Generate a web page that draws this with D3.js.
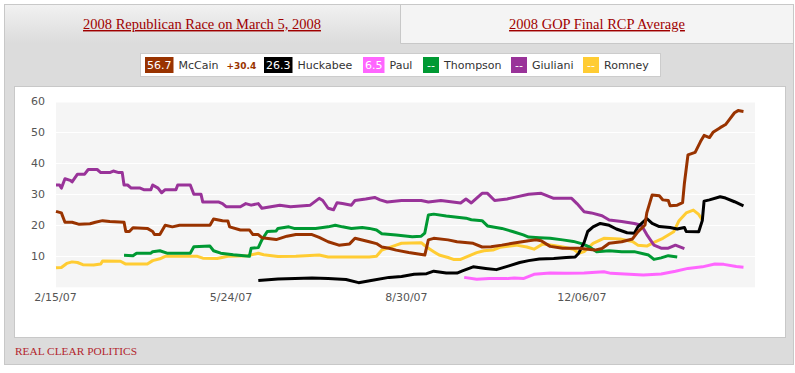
<!DOCTYPE html>
<html><head><meta charset="utf-8">
<script src="https://cdn.jsdelivr.net/npm/d3@7"></script>
<style>
html,body{margin:0;padding:0;background:#fff;}
svg{display:block;}
</style></head>
<body>
<svg id="c" width="795" height="373"></svg>
<script>
// ---- data ----
const mccain = [["2007-02-15",24.5],["2007-02-18",24],["2007-02-20",21],["2007-02-24",21],["2007-02-28",20.3],["2007-03-06",20.5],["2007-03-09",21],["2007-03-13",21.5],["2007-03-17",21.2],["2007-03-25",21],["2007-03-26",18],["2007-03-28",18],["2007-03-30",19.2],["2007-04-07",19],["2007-04-10",18],["2007-04-11",17],["2007-04-14",17],["2007-04-17",20],["2007-04-21",19.5],["2007-04-25",20],["2007-05-12",20],["2007-05-14",22],["2007-05-19",21.5],["2007-05-22",21.4],["2007-05-23",19.5],["2007-05-29",18.5],["2007-06-03",18.5],["2007-06-05",17],["2007-06-08",17],["2007-06-10",16],["2007-06-18",15.4],["2007-06-24",16.5],["2007-06-29",17],["2007-07-08",17],["2007-07-12",16.1],["2007-07-17",14.7],["2007-07-23",13.6],["2007-07-29",14],["2007-08-01",15.8],["2007-08-09",14.7],["2007-08-13",14.1],["2007-08-16",13],["2007-08-20",12.6],["2007-08-24",12],["2007-08-31",11.2],["2007-09-09",10.4],["2007-09-11",15.3],["2007-09-14",15.8],["2007-09-22",15.3],["2007-09-27",14.7],["2007-10-06",14.2],["2007-10-11",13],["2007-10-16",13.1],["2007-10-22",13.6],["2007-10-28",14.2],["2007-11-06",15],["2007-11-10",15.3],["2007-11-13",15],["2007-11-18",13.2],["2007-11-25",12.6],["2007-12-04",12.6],["2007-12-13",12],["2007-12-17",12.5],["2007-12-21",14.2],["2007-12-28",14.7],["2008-01-03",15.6],["2008-01-06",17.9],["2008-01-10",20.1],["2008-01-11",24],["2008-01-14",29.8],["2008-01-18",29.5],["2008-01-20",28.2],["2008-01-23",28],["2008-01-24",26.3],["2008-01-28",26.5],["2008-01-31",27.3],["2008-02-01",33.5],["2008-02-03",42.7],["2008-02-07",43.5],["2008-02-10",47],["2008-02-12",49],["2008-02-15",48.3],["2008-02-17",50],["2008-02-21",51.5],["2008-02-24",52.5],["2008-02-26",54],["2008-02-29",56.3],["2008-03-02",57],["2008-03-05",56.7]];

const huckabee = [["2007-06-08",2.2],["2007-06-19",2.7],["2007-07-08",3],["2007-07-17",2.8],["2007-07-27",2.5],["2007-08-03",1.5],["2007-08-10",2.2],["2007-08-20",3.2],["2007-08-27",3.5],["2007-09-03",4.2],["2007-09-10",4.4],["2007-09-14",5.2],["2007-09-21",4.6],["2007-09-27",4.6],["2007-09-30",5.3],["2007-10-06",6.6],["2007-10-13",6.1],["2007-10-19",5.7],["2007-10-26",6.9],["2007-11-01",8],["2007-11-06",8.6],["2007-11-12",9.1],["2007-11-20",9.3],["2007-11-27",9.6],["2007-12-02",9.8],["2007-12-04",11],["2007-12-07",14.5],["2007-12-09",18],["2007-12-12",19.5],["2007-12-16",20.6],["2007-12-21",20],["2007-12-25",18.8],["2007-12-31",17.6],["2008-01-04",17.4],["2008-01-06",19.5],["2008-01-11",22.2],["2008-01-14",20.6],["2008-01-18",19.6],["2008-01-24",19.3],["2008-01-28",18.8],["2008-02-01",19.3],["2008-02-02",18],["2008-02-09",17.9],["2008-02-11",21.5],["2008-02-12",27.8],["2008-02-15",28.2],["2008-02-21",29.2],["2008-02-24",28.8],["2008-02-29",27.6],["2008-03-05",26.3]];

const paul = [["2007-10-01",3.2],["2007-10-08",2.6],["2007-10-15",2.8],["2007-10-25",2.8],["2007-10-29",3],["2007-11-03",2.8],["2007-11-09",4.2],["2007-11-18",4.6],["2007-11-27",4.5],["2007-12-07",4.6],["2007-12-18",5],["2007-12-22",4.5],["2008-01-09",4],["2008-01-19",4.3],["2008-01-27",5.2],["2008-02-03",6.1],["2008-02-11",6.6],["2008-02-18",7.5],["2008-02-23",7.4],["2008-03-01",6.7],["2008-03-05",6.5]];

const thompson = [["2007-03-25",10.3],["2007-03-30",10.2],["2007-04-01",11],["2007-04-09",11],["2007-04-10",11.5],["2007-04-14",11.8],["2007-04-18",11],["2007-05-01",11],["2007-05-03",13.1],["2007-05-12",13.3],["2007-05-14",11.8],["2007-05-18",11],["2007-05-25",10.5],["2007-06-03",10],["2007-06-04",12.6],["2007-06-08",12.8],["2007-06-10",15.3],["2007-06-13",18],["2007-06-18",18.2],["2007-06-19",19],["2007-06-25",19.5],["2007-06-28",19],["2007-07-10",19],["2007-07-17",19.5],["2007-07-21",20],["2007-07-25",19.5],["2007-07-30",19],["2007-08-05",19.3],["2007-08-09",19],["2007-08-13",18.5],["2007-08-16",17.3],["2007-08-24",16.9],["2007-09-02",16.3],["2007-09-07",16.5],["2007-09-09",17.5],["2007-09-11",23.3],["2007-09-14",23.6],["2007-09-21",23],["2007-10-02",22.3],["2007-10-05",21.8],["2007-10-11",21.5],["2007-10-14",19.8],["2007-10-22",19],["2007-10-28",18],["2007-11-03",16.9],["2007-11-06",16.2],["2007-11-12",16],["2007-11-18",15.8],["2007-11-25",15.3],["2007-12-01",14.8],["2007-12-06",14],["2007-12-10",13],["2007-12-14",11.5],["2007-12-21",11.8],["2007-12-28",11.5],["2008-01-04",11.5],["2008-01-12",10.4],["2008-01-15",9],["2008-01-19",9.5],["2008-01-23",10.2],["2008-01-28",9.8]];

const giuliani = [["2007-02-15",33],["2007-02-17",33],["2007-02-18",32],["2007-02-20",35],["2007-02-23",34.5],["2007-02-24",34],["2007-02-27",36.5],["2007-03-03",36.5],["2007-03-05",38],["2007-03-10",38],["2007-03-12",37],["2007-03-17",37],["2007-03-19",37.5],["2007-03-22",37],["2007-03-24",37],["2007-03-25",33],["2007-03-27",33],["2007-03-29",32],["2007-04-03",32],["2007-04-05",31.5],["2007-04-09",31.5],["2007-04-10",33],["2007-04-13",32],["2007-04-15",30.5],["2007-04-17",31.5],["2007-04-23",31.5],["2007-04-24",33],["2007-05-01",33],["2007-05-03",30],["2007-05-07",30],["2007-05-08",27.5],["2007-05-17",27.5],["2007-05-19",27],["2007-05-21",26],["2007-05-29",26],["2007-06-01",27],["2007-06-04",26.5],["2007-06-08",27],["2007-06-10",25.5],["2007-06-15",26],["2007-06-20",26.5],["2007-06-26",26],["2007-07-07",26.5],["2007-07-12",28.7],["2007-07-14",28],["2007-07-17",25.5],["2007-07-20",25],["2007-07-22",27.3],["2007-07-25",27],["2007-07-30",26.5],["2007-08-01",28],["2007-08-07",28.5],["2007-08-12",29],["2007-08-15",28.2],["2007-08-19",27.5],["2007-08-27",28],["2007-09-07",28],["2007-09-11",27.5],["2007-09-18",28],["2007-09-29",27.2],["2007-10-02",28.5],["2007-10-05",27.2],["2007-10-11",30.3],["2007-10-14",30.3],["2007-10-18",28],["2007-10-25",28.5],["2007-10-29",29],["2007-11-06",30],["2007-11-13",30.3],["2007-11-20",28.7],["2007-11-30",28.7],["2007-12-03",27],["2007-12-07",24.4],["2007-12-11",24],["2007-12-17",23.1],["2007-12-21",21.7],["2007-12-28",21.2],["2008-01-04",20.6],["2008-01-08",20],["2008-01-11",17],["2008-01-15",13.6],["2008-01-19",12.6],["2008-01-23",12.6],["2008-01-27",13.6],["2008-02-01",12.5]];

const romney = [["2007-02-15",6.3],["2007-02-18",6.4],["2007-02-21",7.7],["2007-02-24",8.2],["2007-02-27",8],["2007-03-02",7.3],["2007-03-08",7.2],["2007-03-12",7.5],["2007-03-13",8.5],["2007-03-23",8.4],["2007-03-26",7.5],["2007-04-07",7.5],["2007-04-10",8.6],["2007-04-14",9.2],["2007-04-17",10],["2007-04-27",10],["2007-05-05",10],["2007-05-08",9.4],["2007-05-16",9.3],["2007-05-22",10],["2007-06-02",10.2],["2007-06-08",11],["2007-06-11",10.5],["2007-06-19",9.9],["2007-06-29",10],["2007-07-12",10.4],["2007-07-17",9.8],["2007-07-30",9.8],["2007-08-09",9.8],["2007-08-13",10],["2007-08-16",12],["2007-08-20",12.8],["2007-08-24",13.6],["2007-08-27",14.2],["2007-09-07",14.4],["2007-09-10",13],["2007-09-14",11.5],["2007-09-17",10.4],["2007-09-22",9.6],["2007-09-25",9],["2007-09-29",9],["2007-10-03",10],["2007-10-08",11.2],["2007-10-12",11.8],["2007-10-17",12],["2007-10-21",12.9],["2007-10-30",13.6],["2007-11-05",13],["2007-11-09",12.3],["2007-11-14",14],["2007-11-20",13.5],["2007-11-25",13],["2007-12-01",12.3],["2007-12-04",11],["2007-12-07",11.5],["2007-12-12",14.2],["2007-12-18",15.8],["2007-12-27",15.6],["2008-01-03",14.8],["2008-01-06",13.6],["2008-01-11",13.3],["2008-01-15",14.5],["2008-01-20",15.8],["2008-01-26",17.9],["2008-01-29",21.5],["2008-02-02",24],["2008-02-06",24.9],["2008-02-09",23.5],["2008-02-11",21.7]];

const candidates = ["McCain","Huckabee","Paul","Thompson","Giuliani","Romney"];
const legendValues = ["56.7","26.3","6.5","--","--","--"];
const leaderSpread = "+30.4";
const yTicks = [10,20,30,40,50,60];
const xTickLabels = ["2007-02-15","2007-05-24","2007-08-30","2007-12-06"];
const tabTitles = ["2008 Republican Race on March 5, 2008","2008 GOP Final RCP Average"];
const sourceLabel = "REAL CLEAR POLITICS";

// ---- styles ----
const colors = {McCain:"#993300",Huckabee:"#000000",Paul:"#ff66ff",Thompson:"#009933",Giuliani:"#993399",Romney:"#ffcc33"};
const seriesData = {McCain:mccain,Huckabee:huckabee,Paul:paul,Thompson:thompson,Giuliani:giuliani,Romney:romney};
const parse = d3.timeParse("%Y-%m-%d");
const FONT = "'DejaVu Sans', Verdana, sans-serif";
const SERIF = "'Liberation Serif', 'DejaVu Serif', serif";

const svg = d3.select("#c");

// frame
const defs = svg.append("defs");
const g1 = defs.append("linearGradient").attr("id","tabg").attr("x1",0).attr("y1",0).attr("x2",0).attr("y2",1);
g1.append("stop").attr("offset","0%").attr("stop-color","#f1f1f1");
g1.append("stop").attr("offset","100%").attr("stop-color","#dcdcdc");

svg.append("rect").attr("x",4.5).attr("y",4.5).attr("width",789).attr("height",360).attr("fill","#dcdcdc").attr("stroke","#c8c8c8");
svg.append("rect").attr("x",5).attr("y",5).attr("width",395).attr("height",38).attr("fill","url(#tabg)");
svg.append("rect").attr("x",400).attr("y",5).attr("width",393).attr("height",38).attr("fill","#f4f4f4");
svg.append("line").attr("x1",400.5).attr("x2",400.5).attr("y1",5).attr("y2",43.5).attr("stroke","#c8c8c8");
svg.append("line").attr("x1",400.5).attr("x2",793).attr("y1",43.5).attr("y2",43.5).attr("stroke","#c8c8c8");

svg.selectAll("text.tab").data(tabTitles).enter().append("text")
  .attr("class","tab")
  .attr("x",(d,i)=> i===0 ? 202 : 597)
  .attr("y",29)
  .attr("text-anchor","middle")
  .attr("font-family",SERIF).attr("font-size","14.5px")
  .attr("fill","#a00000")
  .style("text-decoration","underline")
  .text(d=>d);

// legend
svg.append("rect").attr("x",140.5).attr("y",53.5).attr("width",520).attr("height",23).attr("fill","#fff").attr("stroke","#cccccc");
const swatchX = [145,264,363,423,511,583];
candidates.forEach((name,i)=>{
  const g = svg.append("g");
  const valText = g.append("text").attr("font-family",FONT).attr("font-size","11px").attr("fill","#fff")
    .attr("y",69).text(legendValues[i]);
  const vw = valText.node().getComputedTextLength();
  const sw = Math.max(16, vw + 4);
  g.insert("rect","text").attr("x",swatchX[i]).attr("y",57).attr("width",sw).attr("height",16).attr("fill",colors[name]);
  valText.attr("x",swatchX[i]+sw/2).attr("text-anchor","middle");
  const nt = g.append("text").attr("x",swatchX[i]+sw+5).attr("y",69).attr("font-family",FONT).attr("font-size","11px").attr("fill","#333").text(name);
  if(i===0){
    const nw = nt.node().getComputedTextLength();
    g.append("text").attr("x",swatchX[i]+sw+5+nw+8).attr("y",69).attr("font-family",FONT).attr("font-size","9px")
      .attr("font-weight","bold").attr("fill","#993300").text(leaderSpread);
  }
});

// chart panel
svg.append("rect").attr("x",14.5).attr("y",86.5).attr("width",771).attr("height",251).attr("fill","#fff").attr("stroke","#c8c8c8");

const x = d3.scaleTime().domain([parse("2007-02-15"), parse("2008-03-12")]).range([56,756]);
const y = d3.scaleLinear().domain([0,60]).range([287.3,101.3]);

svg.append("rect").attr("x",56).attr("y",y(60)+1.2).attr("width",699).attr("height",y(0)-y(60)-1.2).attr("fill","#f5f5f5");
svg.append("g").selectAll("line").data(yTicks.filter(v=>v<60)).enter().append("line")
  .attr("x1",56).attr("x2",755).attr("y1",d=>Math.round(y(d))+0.5).attr("y2",d=>Math.round(y(d))+0.5)
  .attr("stroke","#fff").attr("stroke-width",1);

const yAxis = svg.append("g").attr("transform","translate(45,0)")
  .call(d3.axisLeft(y).tickValues(yTicks).tickSize(0).tickPadding(0));
yAxis.select(".domain").remove();
yAxis.selectAll("text").attr("font-family",FONT).attr("font-size","11px").attr("fill","#555");

const xAxis = svg.append("g").attr("transform","translate(-1,293)")
  .call(d3.axisBottom(x).tickValues(xTickLabels.map(parse)).tickSize(0).tickPadding(0).tickFormat(d3.timeFormat("%-m/%d/%y")));
xAxis.select(".domain").remove();
xAxis.selectAll("text").attr("font-family",FONT).attr("font-size","11px").attr("fill","#555");

const line = d3.line().x(d=>x(parse(d[0]))).y(d=>y(d[1]));
const order = ["Romney","Giuliani","Thompson","Paul","Huckabee","McCain"];
order.forEach(name=>{
  svg.append("path").datum(seriesData[name]).attr("d",line)
    .attr("fill","none").attr("stroke",colors[name]).attr("stroke-width",3)
    .attr("stroke-linejoin","round").attr("stroke-linecap","butt");
});

svg.append("text").attr("x",15).attr("y",355).attr("font-family",SERIF).attr("font-size","11px")
  .attr("fill","#b3262e").attr("textLength",122).attr("lengthAdjust","spacingAndGlyphs").text(sourceLabel);
</script>
</body></html>
